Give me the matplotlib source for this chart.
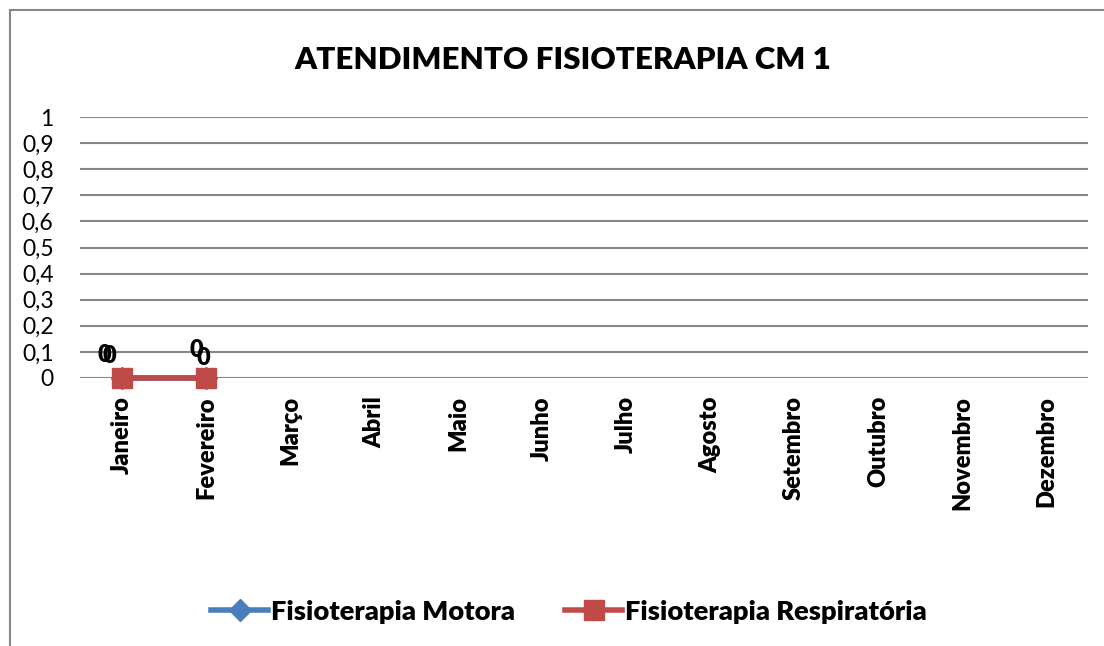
import matplotlib
matplotlib.use("Agg")
import matplotlib.pyplot as plt
from matplotlib.patches import Rectangle
from matplotlib.ticker import FuncFormatter

plt.rcParams['font.family'] = ['Lato', 'DejaVu Sans']

meses = ['Janeiro', 'Fevereiro', 'Março', 'Abril', 'Maio', 'Junho', 'Julho',
         'Agosto', 'Setembro', 'Outubro', 'Novembro', 'Dezembro']
motora = [0, 0]
respiratoria = [0, 0]
yticks = [0, 0.1, 0.2, 0.3, 0.4, 0.5, 0.6, 0.7, 0.8, 0.9, 1]

# label offsets (pixels) as they sit in the original chart
off_motora = [(-18, 23), (-10, 28)]
off_resp = [(-13, 22), (-3, 20)]

azul = '#4A7EBB'
vermelho = '#BE4B48'
cinza = '#868686'
peso = 800

fig = plt.figure(figsize=(11.04, 6.46), dpi=100)
ax = fig.add_axes([80/1104, 268/646, 1008/1104, 261/646])

x = list(range(len(meses)))
ax.plot(x[:len(motora)], motora, color=azul, lw=4, marker='D', ms=11,
        label='Fisioterapia Motora', zorder=3, clip_on=False)
ax.plot(x[:len(respiratoria)], respiratoria, color=vermelho, lw=4, marker='s',
        ms=14.5, label='Fisioterapia Respiratória', zorder=4, clip_on=False)

for i, v in enumerate(motora):
    ax.annotate(str(v), (x[i], v), xytext=off_motora[i], textcoords='offset pixels',
                ha='center', va='center', fontsize=17, fontweight=peso, zorder=5)
for i, v in enumerate(respiratoria):
    ax.annotate(str(v), (x[i], v), xytext=off_resp[i], textcoords='offset pixels',
                ha='center', va='center', fontsize=17, fontweight=peso, zorder=5)

ax.set_xlim(-0.5, len(meses) - 0.5)
ax.set_ylim(0, 1)
ax.set_yticks(yticks)
ax.yaxis.set_major_formatter(FuncFormatter(lambda v, p: ('%g' % round(v, 1)).replace('.', ',')))
ax.set_xticks(x)
ax.set_xticklabels(meses, rotation=90, fontweight=peso, fontsize=17)
ax.tick_params(axis='x', length=0, pad=13)
ax.tick_params(axis='y', length=0, pad=19, labelsize=16.5)
ax.grid(axis='y', color=cinza, lw=1.5)
ax.set_axisbelow(True)
for s in ax.spines.values():
    s.set_visible(False)

fig.text(563/1104, 1 - 60/646, 'ATENDIMENTO FISIOTERAPIA CM 1', ha='center', va='center',
         fontsize=22.5, fontweight=peso)

fig.legend(loc='center', bbox_to_anchor=(569/1104, 1 - 612/646), ncol=2, frameon=False,
           prop={'weight': peso, 'size': 19.6}, handlelength=2.1, columnspacing=1.85,
           handletextpad=0.1)

# outer chart frame (cropped on right and bottom)
fig.patches.append(Rectangle((10/1104, -0.1), 1.2, 1 - 10/646 + 0.1,
                             transform=fig.transFigure, fill=False,
                             edgecolor=cinza, lw=1.5))

fig.savefig('out.png', dpi=100)
